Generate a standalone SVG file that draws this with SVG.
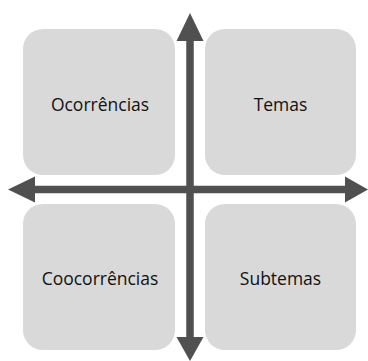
<svg xmlns="http://www.w3.org/2000/svg" width="368" height="361" viewBox="0 0 368 361">
<style>
.box{fill:#d9d9d9}
.lbl{font-family:"Open Sans","Liberation Sans",sans-serif;font-size:17.5px;fill:#111;text-anchor:middle}
.ax{stroke:#505050;stroke-width:7.5;fill:none}
.hd{fill:#505050}
</style>
<rect width="368" height="361" fill="#fff"/>
<g id="ocorrencias"><rect class="box" x="23" y="29" width="152" height="146" rx="20"/><text class="lbl" x="100" y="110.5">Ocorrências</text></g>
<g id="temas"><rect class="box" x="205" y="29" width="151" height="146" rx="20"/><text class="lbl" x="280.5" y="110.5">Temas</text></g>
<g id="coocorrencias"><rect class="box" x="23" y="204" width="152" height="146" rx="20"/><text class="lbl" x="100" y="284.5">Coocorrências</text></g>
<g id="subtemas"><rect class="box" x="205" y="204" width="151" height="146" rx="20"/><text class="lbl" x="280.5" y="284.5">Subtemas</text></g>
<g id="connectors">
<line class="ax" x1="190" y1="40" x2="190" y2="338"/>
<line class="ax" x1="34" y1="189.5" x2="346" y2="189.5"/>
<polygon class="hd" points="190,13 203.5,41 176.5,41"/>
<polygon class="hd" points="190,361 203.5,337 176.5,337"/>
<polygon class="hd" points="8,189.5 35,176.5 35,202.5"/>
<polygon class="hd" points="368,189.5 345,176.5 345,202.5"/>
</g>
</svg>
